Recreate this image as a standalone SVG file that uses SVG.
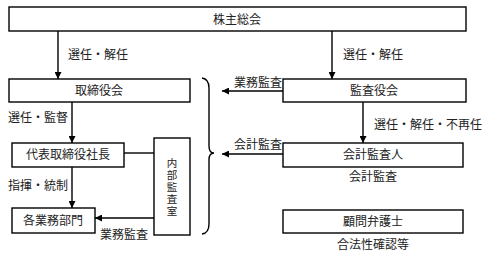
<svg xmlns="http://www.w3.org/2000/svg" width="487" height="257" viewBox="0 0 487 257">
<style>
.box{fill:#fff;stroke:#000;stroke-width:1.4}
.ln{fill:none;stroke:#000;stroke-width:1.4}
text{font-family:"Liberation Serif","Noto Sans CJK JP",serif;font-size:12px;fill:#222}
.c{text-anchor:middle}
.e{text-anchor:end}
.v{font-size:10.5px}
</style>
<defs>
<marker id="ah" viewBox="0 0 10 10" refX="10" refY="5" markerWidth="7" markerHeight="7" markerUnits="userSpaceOnUse" orient="auto">
<path d="M0,0 L10,5 L0,10 z" fill="#000"/>
</marker>
</defs>
<g id="connectors">
<line class="ln" x1="58" y1="31" x2="58" y2="79" marker-end="url(#ah)"/>
<line class="ln" x1="332" y1="31" x2="332" y2="79" marker-end="url(#ah)"/>
<line class="ln" x1="72" y1="102" x2="72" y2="143" marker-end="url(#ah)"/>
<line class="ln" x1="363" y1="102" x2="363" y2="143" marker-end="url(#ah)"/>
<line class="ln" x1="72" y1="167" x2="72" y2="208" marker-end="url(#ah)"/>
<line class="ln" x1="124" y1="153" x2="154" y2="153"/>
<line class="ln" x1="154" y1="218" x2="95" y2="218" marker-end="url(#ah)"/>
<line class="ln" x1="283" y1="91" x2="222" y2="91" marker-end="url(#ah)"/>
<line class="ln" x1="283" y1="154" x2="222" y2="154" marker-end="url(#ah)"/>
<path class="ln" d="M202,78 Q209,79 209,88 L209,146 Q209,153 214,153 Q209,153 209,160 L209,224 Q209,233 202,234"/>
<text x="68" y="59">選任・解任</text>
<text x="343" y="59">選任・解任</text>
<text x="8" y="122">選任・監督</text>
<text x="374" y="129">選任・解任・不再任</text>
<text x="8" y="190">指揮・統制</text>
<text x="100" y="239">業務監査</text>
<text class="e" x="282" y="87">業務監査</text>
<text class="e" x="282" y="149">会計監査</text>
</g>
<g id="shareholders"><rect class="box" x="9" y="7" width="457" height="24"/><text class="c" x="237" y="24">株主総会</text></g>
<g id="board"><rect class="box" x="9" y="79" width="181" height="23"/><text class="c" x="99" y="95">取締役会</text></g>
<g id="auditors"><rect class="box" x="283" y="79" width="183" height="23"/><text class="c" x="374" y="95">監査役会</text></g>
<g id="president"><rect class="box" x="12" y="143" width="112" height="24"/><text class="c" x="68" y="159">代表取締役社長</text></g>
<g id="departments"><rect class="box" x="12" y="208" width="83" height="25"/><text class="c" x="53" y="225">各業務部門</text></g>
<g id="internal-audit"><rect class="box" x="154" y="138" width="36" height="97"/>
<text class="c v" x="172" y="167">内</text><text class="c v" x="172" y="179">部</text><text class="c v" x="172" y="191">監</text><text class="c v" x="172" y="203">査</text><text class="c v" x="172" y="215">室</text></g>
<g id="accounting-auditor"><rect class="box" x="283" y="143" width="180" height="24"/><text class="c" x="373" y="159">会計監査人</text><text class="c" x="373" y="181">会計監査</text></g>
<g id="lawyer"><rect class="box" x="283" y="210" width="180" height="23"/><text class="c" x="373" y="226">顧問弁護士</text><text class="c" x="373" y="249">合法性確認等</text></g>
</svg>
